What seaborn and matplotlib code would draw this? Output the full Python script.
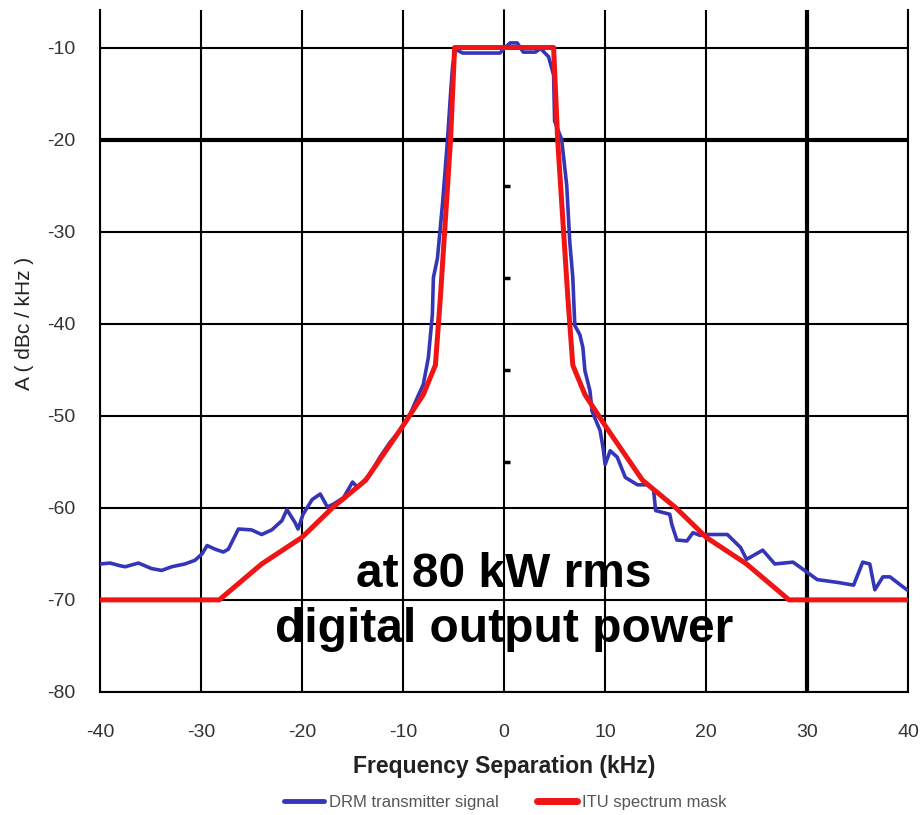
import numpy as np
import pandas as pd
import matplotlib
matplotlib.use("Agg")
import matplotlib.pyplot as plt
import seaborn as sns

# ---- data ----
drm_freq = [-40, -39, -38, -37.5, -36.2, -34.9, -33.9, -32.9, -31.6, -30.6, -29.9, -29.4,
            -28.6, -27.8, -27.3, -26.8, -26.3, -25.0, -24.0, -23.0, -22.0, -21.5, -20.7,
            -20.4, -19.9, -19.0, -18.2, -17.5, -16.9, -15.9, -15.0, -14.5, -13.3, -12.3,
            -11.3, -10.3, -9.3, -8.5, -8.0, -7.5, -7.1, -7.0, -6.6, -6.1, -5.6, -5.3, -5.1,
            -4.8, -4.1, -2.5, -0.4, 0.0, 0.6, 1.3, 1.9, 3.1, 3.6, 4.4, 4.9, 5.0, 5.7, 6.2,
            6.5, 6.8, 7.0, 7.5, 7.8, 8.0, 8.5, 8.7, 9.5, 9.8, 10.0, 10.5, 11.2, 12.0, 13.2,
            14.2, 14.8, 15.0, 16.4, 16.6, 17.1, 18.1, 18.7, 19.4, 20.1, 22.1, 23.4, 24.0,
            25.6, 26.8, 28.6, 30.0, 31.0, 33.0, 34.6, 35.5, 36.2, 36.7, 37.5, 38.2, 39.5, 40.0]
drm_level = [-66.1, -66.0, -66.3, -66.4, -66.0, -66.6, -66.8, -66.4, -66.1, -65.7, -65.0, -64.1,
             -64.5, -64.8, -64.5, -63.4, -62.3, -62.4, -62.9, -62.4, -61.4, -60.2, -61.6,
             -62.3, -60.7, -59.1, -58.5, -59.9, -59.6, -58.9, -57.2, -57.8, -56.4, -54.5,
             -52.9, -51.6, -49.8, -47.8, -46.6, -43.7, -39.0, -35.0, -32.9, -27.0, -20.0, -15.0, -12.0,
             -10.2, -10.6, -10.6, -10.6, -10.1, -9.5, -9.5, -10.5, -10.5, -10.1, -11.0, -13.0, -18.0, -20.0, -25.0,
             -31.1, -35.0, -40.2, -41.2, -42.6, -45.1, -47.3, -49.5, -51.6, -53.5, -55.3, -53.8, -54.5, -56.7, -57.5,
             -57.5, -58.1, -60.3, -60.7, -61.8, -63.5, -63.6, -62.7, -63.0, -62.9, -62.9, -64.3, -65.6,
             -64.6, -66.1, -65.9, -67.0, -67.8, -68.1, -68.4, -65.9, -66.1, -68.9, -67.5, -67.5, -68.6, -69.0]

mask_freq = [-40, -28.2, -24, -20, -17, -13.7, -10.2, -8, -6.8, -6.3, -5.3, -4.9,
             4.9, 5.3, 6.3, 6.8, 8, 10.2, 13.7, 17, 20, 24, 28.2, 40]
mask_level = [-70, -70, -66.1, -63.2, -60.0, -57.0, -51.4, -47.7, -44.5, -37.0, -20.0, -10.0,
              -10.0, -20.0, -37.0, -44.5, -47.7, -51.4, -57.0, -60.0, -63.2, -66.1, -70, -70]

x_ticks = [-40, -30, -20, -10, 0, 10, 20, 30, 40]
y_ticks = [-10, -20, -30, -40, -50, -60, -70, -80]
minor_marks = [-25, -35, -45, -55]

df = pd.concat([
    pd.DataFrame({"f": drm_freq, "A": drm_level, "s": "DRM transmitter signal"}),
    pd.DataFrame({"f": mask_freq, "A": mask_level, "s": "ITU spectrum mask"}),
])

sns.set_theme(style="white")
plt.rcParams["font.family"] = ["Liberation Sans", "DejaVu Sans"]
plt.rcParams["axes.unicode_minus"] = False

fig = plt.figure(figsize=(9.22, 8.15), dpi=100)
ax = fig.add_axes([0.1085, 0.151, 0.8765, 0.837])

sns.lineplot(data=df, x="f", y="A", hue="s", sort=False, estimator=None,
             palette={"DRM transmitter signal": "#3535B8", "ITU spectrum mask": "#F01414"},
             ax=ax, legend=False)
ax.lines[0].set_linewidth(2.6)
ax.lines[1].set_linewidth(3.6)
ax.lines[1].set_zorder(4)
ax.lines[0].set_zorder(3)

ax.set_xlim(-40, 40)
ax.set_ylim(-79.8, -5.9)
ax.set_xticks(x_ticks)
ax.set_yticks(y_ticks)
ax.grid(True, color="black", linewidth=1.5, zorder=1)
ax.set_axisbelow(True)
for gl, v in zip(ax.get_ygridlines(), y_ticks):
    if v == -20:
        gl.set_linewidth(3.0)
for gl, v in zip(ax.get_xgridlines(), x_ticks):
    if v == 30:
        gl.set_linewidth(3.0)

for side in ["left", "bottom", "right"]:
    ax.spines[side].set_color("black")
    ax.spines[side].set_linewidth(1.5)
ax.spines["top"].set_visible(False)
ax.tick_params(axis="both", length=0, labelsize=14, labelcolor="#333333")
ax.tick_params(axis="y", pad=18)
ax.tick_params(axis="x", pad=23)

# small marks on the zero line
sec = ax.secondary_yaxis(0.5)
sec.set_yticks(minor_marks)
sec.set_yticklabels([])
sec.tick_params(direction="out", length=4, width=2.5, color="black")
sec.spines["left"].set_visible(False)

ax.set_xlabel("Frequency Separation (kHz)", fontsize=16.5, fontweight="bold",
              color="#222222", labelpad=10)
ax.set_ylabel("A ( dBc / kHz )", fontsize=15, color="#222222")
ax.yaxis.set_label_coords(-0.082, 0.54)

ax.text(0, -67.2, "at 80 kW rms", ha="center", va="center", fontsize=34.5,
        fontweight="bold", color="black", zorder=6)
ax.text(0, -73.2, "digital output power", ha="center", va="center", fontsize=34.5,
        fontweight="bold", color="black", zorder=6)

from matplotlib.lines import Line2D
handles = [Line2D([], [], color="#3535B8", lw=3.5), Line2D([], [], color="#F01414", lw=5)]
fig.legend(handles, ["DRM transmitter signal", "ITU spectrum mask"], loc="lower center",
           bbox_to_anchor=(0.548, -0.012), ncol=2, frameon=False, fontsize=12,
           handlelength=2.4, columnspacing=2.3, handletextpad=0.3, labelcolor="#555555")

fig.savefig("out.png", dpi=100)
